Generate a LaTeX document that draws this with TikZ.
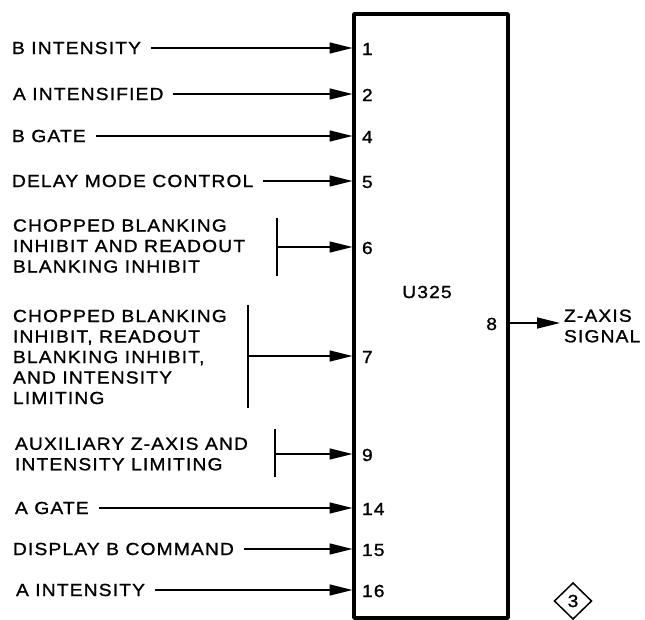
\documentclass[tikz,border=0pt]{standalone}
\usepackage{fontspec}
\setmainfont{Liberation Sans}[FakeStretch=1.1,LetterSpace=6.5,FakeBold=1.1]
\usetikzlibrary{arrows.meta,shapes.geometric}
\begin{document}
\begin{tikzpicture}[x=1pt,y=-1pt,
  every node/.style={font=\fontsize{17.5}{20.5}\selectfont, inner sep=0pt, outer sep=0pt},
  lbl/.style={anchor=west, align=left},
  pin/.style={anchor=west},
  sig/.style={line width=1.6pt, -{Triangle[length=23pt,width=11pt]}},
  brk/.style={line width=1.6pt},
  chip/.style={draw, line width=3.4pt, minimum width=154pt, minimum height=604pt, anchor=north west, line join=round}]
\useasboundingbox (0,0) rectangle (645,620);
\node[chip] (U) at (354,14) {};
\node at (427,292) (name) {U325};
% pin coordinates on box edge
\foreach \n/\y in {p1/48,p2/94,p4/136,p5/181,p6/247,p7/356,p9/454,p14/508,p15/549,p16/590}
  \coordinate (\n) at (352.5,\y);
\coordinate (p8) at (509.5,323);
% pin numbers
\node[pin] (n1) at (362,49) {1};
\node[pin] (n2) at (362,95) {2};
\node[pin] (n4) at (362,137) {4};
\node[pin] (n5) at (362,182) {5};
\node[pin] (n6) at (362,248) {6};
\node[pin] (n7) at (362,357) {7};
\node[pin] (n9) at (362,455) {9};
\node[pin] (n14) at (362,509) {14};
\node[pin] (n15) at (362,550) {15};
\node[pin] (n16) at (362,591) {16};
\node[anchor=east] (n8) at (497,324) {8};
% labels
\node[lbl] (l1) at (12,48) {B INTENSITY};
\node[lbl] (l2) at (13,94) {A INTENSIFIED};
\node[lbl] (l4) at (12,136) {B GATE};
\node[lbl] (l5) at (12,181) {DELAY MODE CONTROL};
\node[lbl] (l6) at (13,246) {CHOPPED BLANKING\\INHIBIT AND READOUT\\BLANKING INHIBIT};
\node[lbl] (l7) at (13,357) {CHOPPED BLANKING\\INHIBIT, READOUT\\BLANKING INHIBIT,\\AND INTENSITY\\LIMITING};
\node[lbl] (l9) at (15,454) {AUXILIARY Z-AXIS AND\\INTENSITY LIMITING};
\node[lbl] (l14) at (15,508) {A GATE};
\node[lbl] (l15) at (13,549) {DISPLAY B COMMAND};
\node[lbl] (l16) at (16,590) {A INTENSITY};
\node[lbl] (out) at (564,326) {Z-AXIS\\SIGNAL};
% brackets
\coordinate (b6t) at (277,218); \coordinate (b6b) at (277,276);
\coordinate (b7t) at (248,305); \coordinate (b7b) at (248,408);
\coordinate (b9t) at (275,429); \coordinate (b9b) at (275,477);
\draw[brk] (b6t) -- (b6b);
\draw[brk] (b7t) -- (b7b);
\draw[brk] (b9t) -- (b9b);
% arrows
\draw[sig] ([xshift=10pt]l1.east) -- (p1);
\draw[sig] ([xshift=10pt]l2.east) -- (p2);
\draw[sig] ([xshift=10pt]l4.east) -- (p4);
\draw[sig] ([xshift=10pt]l5.east) -- (p5);
\draw[sig] (b6t |- p6) -- (p6);
\draw[sig] (b7t |- p7) -- (p7);
\draw[sig] (b9t |- p9) -- (p9);
\draw[sig] ([xshift=10pt]l14.east) -- (p14);
\draw[sig] ([xshift=10pt]l15.east) -- (p15);
\draw[sig] ([xshift=10pt]l16.east) -- (p16);
\draw[sig] (p8) -- ([xshift=-4pt]out.west |- p8);
% note diamond
\node[draw, diamond, line width=1.5pt, minimum width=37pt, minimum height=36pt] (d3) at (573,601) {3};
\end{tikzpicture}
\end{document}
